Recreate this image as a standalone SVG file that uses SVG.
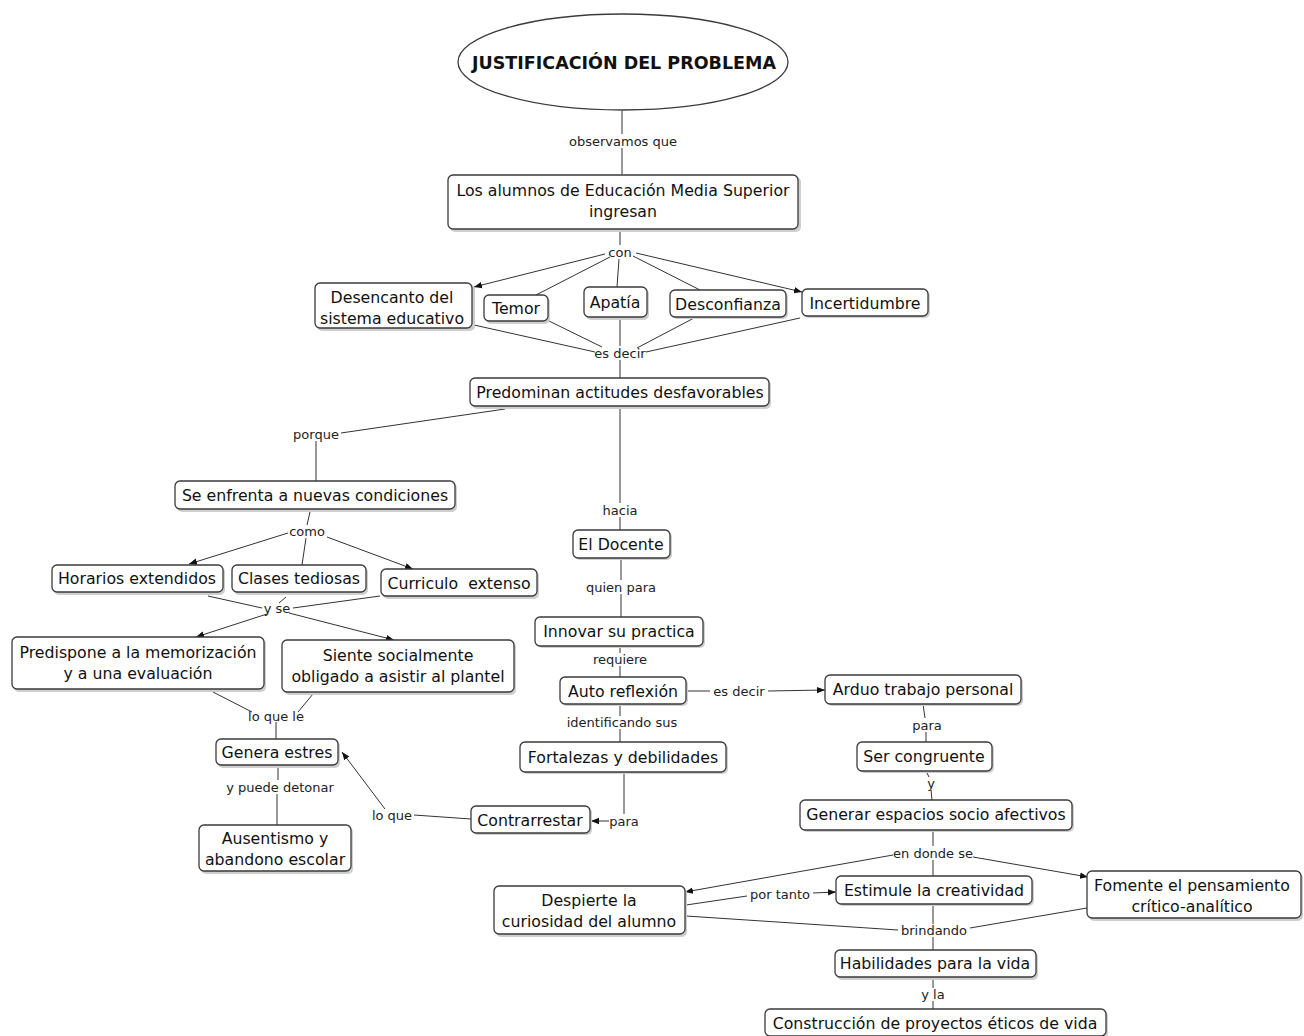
<svg xmlns="http://www.w3.org/2000/svg" width="1304" height="1036" viewBox="0 0 1304 1036">
<defs>
<style>
.n rect.b{fill:#fff;stroke:#3a3a3a;stroke-width:1.3}
.n rect.s{fill:#cfcfcf}
.n text{font-family:"DejaVu Sans",Verdana,sans-serif;font-size:15.75px;fill:#111;text-anchor:middle;dominant-baseline:central}
.l{font-family:"DejaVu Sans",Verdana,sans-serif;font-size:13px;fill:#222;text-anchor:middle;dominant-baseline:central}
#conn line{stroke:#333;stroke-width:1}
#conn line.a{marker-end:url(#ah)}
</style>
<marker id="ah" viewBox="0 0 10 10" refX="10" refY="5" markerWidth="8" markerHeight="8" markerUnits="userSpaceOnUse" orient="auto">
<path d="M0,1 L10,5 L0,9 z" fill="#111"/>
</marker>
</defs>
<rect width="1304" height="1036" fill="#fff"/>

<g id="conn">
<line x1="622" y1="111" x2="622" y2="134"/>
<line x1="622" y1="148" x2="622" y2="174"/>
<line x1="620" y1="231" x2="620" y2="245"/>
<line class="a" x1="605" y1="254" x2="474" y2="287"/>
<line x1="610" y1="257" x2="536" y2="295"/>
<line x1="619" y1="259" x2="617" y2="287"/>
<line x1="633" y1="256" x2="700" y2="290"/>
<line class="a" x1="636" y1="253" x2="802" y2="292"/>
<line x1="474" y1="325" x2="595" y2="352"/>
<line x1="549" y1="321" x2="602" y2="347"/>
<line x1="620" y1="318" x2="620" y2="346"/>
<line x1="694" y1="318" x2="637" y2="348"/>
<line x1="800" y1="318" x2="646" y2="352"/>
<line x1="620" y1="360" x2="620" y2="378"/>
<line x1="505" y1="409" x2="341" y2="433"/>
<line x1="316" y1="441" x2="316" y2="481"/>
<line x1="620" y1="407" x2="620" y2="503"/>
<line x1="620" y1="517" x2="620" y2="530"/>
<line x1="310" y1="512" x2="307" y2="525"/>
<line class="a" x1="288" y1="533" x2="189" y2="564"/>
<line x1="306" y1="538" x2="302" y2="565"/>
<line class="a" x1="327" y1="537" x2="413" y2="569"/>
<line x1="208" y1="596" x2="262" y2="608"/>
<line x1="286" y1="597" x2="279" y2="603"/>
<line x1="380" y1="596" x2="293" y2="608"/>
<line class="a" x1="267" y1="614" x2="196" y2="637"/>
<line class="a" x1="289" y1="613" x2="394" y2="640"/>
<line x1="213" y1="692" x2="252" y2="712"/>
<line x1="313" y1="694" x2="298" y2="712"/>
<line x1="276" y1="722" x2="276" y2="739"/>
<line x1="278" y1="768" x2="278" y2="780"/>
<line x1="277" y1="794" x2="277" y2="825"/>
<line class="a" x1="385" y1="809" x2="342" y2="752"/>
<line x1="414" y1="815" x2="471" y2="819"/>
<line x1="624" y1="773" x2="624" y2="814"/>
<line class="a" x1="609" y1="821" x2="591" y2="821"/>
<line x1="621" y1="558" x2="621" y2="580"/>
<line x1="621" y1="594" x2="621" y2="617"/>
<line x1="620" y1="646" x2="620" y2="653"/>
<line x1="620" y1="666" x2="620" y2="677"/>
<line x1="620" y1="704" x2="620" y2="716"/>
<line x1="620" y1="729" x2="620" y2="742"/>
<line x1="686" y1="691" x2="710" y2="691"/>
<line class="a" x1="768" y1="691" x2="825" y2="690"/>
<line x1="923" y1="704" x2="925" y2="718"/>
<line x1="926" y1="732" x2="926" y2="742"/>
<line x1="926" y1="771" x2="929" y2="777"/>
<line x1="931" y1="790" x2="932" y2="800"/>
<line x1="933" y1="830" x2="933" y2="846"/>
<line class="a" x1="893" y1="855" x2="685" y2="892"/>
<line class="a" x1="973" y1="857" x2="1088" y2="877"/>
<line x1="933" y1="860" x2="933" y2="877"/>
<line x1="686" y1="905" x2="747" y2="896"/>
<line class="a" x1="813" y1="893" x2="836" y2="892"/>
<line x1="686" y1="916" x2="898" y2="930"/>
<line x1="1087" y1="908" x2="970" y2="928"/>
<line x1="933" y1="904" x2="933" y2="924"/>
<line x1="933" y1="937" x2="933" y2="950"/>
<line x1="933" y1="977" x2="933" y2="988"/>
<line x1="933" y1="1001" x2="933" y2="1010"/>
</g>

<g id="labels">
<text class="l" x="623" y="141">observamos que</text>
<text class="l" x="620" y="252">con</text>
<text class="l" x="620" y="353">es decir</text>
<text class="l" x="316" y="434">porque</text>
<text class="l" x="620" y="510">hacia</text>
<text class="l" x="307" y="531">como</text>
<text class="l" x="277" y="608">y se</text>
<text class="l" x="276" y="716">lo que le</text>
<text class="l" x="280" y="787">y puede detonar</text>
<text class="l" x="392" y="815">lo que</text>
<text class="l" x="624" y="821">para</text>
<text class="l" x="621" y="587">quien para</text>
<text class="l" x="620" y="659">requiere</text>
<text class="l" x="739" y="691">es decir</text>
<text class="l" x="622" y="722">identificando sus</text>
<text class="l" x="927" y="725">para</text>
<text class="l" x="931" y="783">y</text>
<text class="l" x="933" y="853">en donde se</text>
<text class="l" x="780" y="894">por tanto</text>
<text class="l" x="934" y="930">brindando</text>
<text class="l" x="933" y="994">y la</text>
</g>

<g id="n-title">
<ellipse cx="623" cy="62" rx="165" ry="48" fill="#fff" stroke="#3a3a3a" stroke-width="1.3"/>
<text x="624" y="63" style="font-family:'DejaVu Sans',Verdana,sans-serif;font-size:17.5px;font-weight:bold;fill:#111;text-anchor:middle;dominant-baseline:central">JUSTIFICACIÓN DEL PROBLEMA</text>
</g>

<g id="n-alumnos" class="n">
<rect class="s" x="450" y="177" width="351" height="55" rx="5"/>
<rect class="b" x="448" y="175" width="350" height="54" rx="5"/>
<text x="623" y="190">Los alumnos de Educación Media Superior</text>
<text x="623" y="211">ingresan</text>
</g>

<g id="n-desencanto" class="n">
<rect class="s" x="317" y="285" width="158" height="46" rx="5"/>
<rect class="b" x="315" y="283" width="157" height="45" rx="5"/>
<text x="392" y="297">Desencanto del</text>
<text x="392" y="318">sistema educativo</text>
</g>

<g id="n-temor" class="n">
<rect class="s" x="486" y="297" width="64" height="27" rx="5"/>
<rect class="b" x="484" y="295" width="64" height="26" rx="5"/>
<text x="516" y="308">Temor</text>
</g>

<g id="n-apatia" class="n">
<rect class="s" x="586" y="289" width="63" height="31" rx="5"/>
<rect class="b" x="584" y="287" width="63" height="30" rx="5"/>
<text x="615" y="302">Apatía</text>
</g>

<g id="n-desconfianza" class="n">
<rect class="s" x="672" y="292" width="116" height="27" rx="5"/>
<rect class="b" x="670" y="290" width="116" height="27" rx="5"/>
<text x="728" y="304">Desconfianza</text>
</g>

<g id="n-incertidumbre" class="n">
<rect class="s" x="804" y="291" width="126" height="27" rx="5"/>
<rect class="b" x="802" y="289" width="126" height="27" rx="5"/>
<text x="865" y="303">Incertidumbre</text>
</g>

<g id="n-predominan" class="n">
<rect class="s" x="472" y="380" width="299" height="29" rx="5"/>
<rect class="b" x="470" y="378" width="299" height="28" rx="5"/>
<text x="620" y="392">Predominan actitudes desfavorables</text>
</g>

<g id="n-enfrenta" class="n">
<rect class="s" x="177" y="483" width="280" height="29" rx="5"/>
<rect class="b" x="175" y="481" width="280" height="28" rx="5"/>
<text x="315" y="495">Se enfrenta a nuevas condiciones</text>
</g>

<g id="n-horarios" class="n">
<rect class="s" x="54" y="567" width="171" height="28" rx="5"/>
<rect class="b" x="52" y="565" width="171" height="27" rx="5"/>
<text x="137" y="578">Horarios extendidos</text>
</g>

<g id="n-clases" class="n">
<rect class="s" x="234" y="567" width="134" height="28" rx="5"/>
<rect class="b" x="232" y="565" width="134" height="27" rx="5"/>
<text x="299" y="578">Clases tediosas</text>
</g>

<g id="n-curriculo" class="n">
<rect class="s" x="383" y="571" width="156" height="28" rx="5"/>
<rect class="b" x="381" y="569" width="156" height="27" rx="5"/>
<text x="459" y="583" xml:space="preserve">Curriculo  extenso</text>
</g>

<g id="n-predispone" class="n">
<rect class="s" x="14" y="639" width="252" height="53" rx="5"/>
<rect class="b" x="12" y="637" width="252" height="52" rx="5"/>
<text x="138" y="652">Predispone a la memorización</text>
<text x="138" y="673">y a una evaluación</text>
</g>

<g id="n-siente" class="n">
<rect class="s" x="284" y="642" width="232" height="53" rx="5"/>
<rect class="b" x="282" y="640" width="232" height="52" rx="5"/>
<text x="398" y="655">Siente socialmente</text>
<text x="398" y="676">obligado a asistir al plantel</text>
</g>

<g id="n-genera" class="n">
<rect class="s" x="218" y="741" width="122" height="27" rx="5"/>
<rect class="b" x="216" y="739" width="122" height="26" rx="5"/>
<text x="277" y="752">Genera estres</text>
</g>

<g id="n-ausentismo" class="n">
<rect class="s" x="201" y="827" width="152" height="47" rx="5"/>
<rect class="b" x="199" y="825" width="152" height="46" rx="5"/>
<text x="275" y="838">Ausentismo y</text>
<text x="275" y="859">abandono escolar</text>
</g>

<g id="n-contrarrestar" class="n">
<rect class="s" x="473" y="808" width="119" height="27" rx="5"/>
<rect class="b" x="471" y="806" width="119" height="27" rx="5"/>
<text x="530" y="820">Contrarrestar</text>
</g>

<g id="n-docente" class="n">
<rect class="s" x="575" y="532" width="97" height="28" rx="5"/>
<rect class="b" x="573" y="530" width="97" height="28" rx="5"/>
<text x="621" y="544">El Docente</text>
</g>

<g id="n-innovar" class="n">
<rect class="s" x="537" y="619" width="168" height="29" rx="5"/>
<rect class="b" x="535" y="617" width="168" height="29" rx="5"/>
<text x="619" y="631">Innovar su practica</text>
</g>

<g id="n-auto" class="n">
<rect class="s" x="562" y="679" width="126" height="27" rx="5"/>
<rect class="b" x="560" y="677" width="126" height="27" rx="5"/>
<text x="623" y="691">Auto reflexión</text>
</g>

<g id="n-fortalezas" class="n">
<rect class="s" x="522" y="744" width="206" height="30" rx="5"/>
<rect class="b" x="520" y="742" width="206" height="30" rx="5"/>
<text x="623" y="757">Fortalezas y debilidades</text>
</g>

<g id="n-arduo" class="n">
<rect class="s" x="827" y="677" width="196" height="29" rx="5"/>
<rect class="b" x="825" y="675" width="196" height="29" rx="5"/>
<text x="923" y="689">Arduo trabajo personal</text>
</g>

<g id="n-ser" class="n">
<rect class="s" x="859" y="744" width="135" height="29" rx="5"/>
<rect class="b" x="857" y="742" width="135" height="29" rx="5"/>
<text x="924" y="756">Ser congruente</text>
</g>

<g id="n-generar" class="n">
<rect class="s" x="802" y="802" width="272" height="30" rx="5"/>
<rect class="b" x="800" y="800" width="272" height="30" rx="5"/>
<text x="936" y="814">Generar espacios socio afectivos</text>
</g>

<g id="n-despierte" class="n">
<rect class="s" x="496" y="888" width="191" height="49" rx="5"/>
<rect class="b" x="494" y="886" width="191" height="48" rx="5"/>
<text x="589" y="900">Despierte la</text>
<text x="589" y="921">curiosidad del alumno</text>
</g>

<g id="n-estimule" class="n">
<rect class="s" x="838" y="878" width="196" height="28" rx="5"/>
<rect class="b" x="836" y="876" width="196" height="28" rx="5"/>
<text x="934" y="890">Estimule la creatividad</text>
</g>

<g id="n-fomente" class="n">
<rect class="s" x="1089" y="873" width="214" height="48" rx="5"/>
<rect class="b" x="1087" y="871" width="214" height="47" rx="5"/>
<text x="1192" y="885">Fomente el pensamiento</text>
<text x="1192" y="906">crítico-analítico</text>
</g>

<g id="n-habilidades" class="n">
<rect class="s" x="837" y="952" width="201" height="28" rx="5"/>
<rect class="b" x="835" y="950" width="201" height="27" rx="5"/>
<text x="935" y="963">Habilidades para la vida</text>
</g>

<g id="n-construccion" class="n">
<rect class="s" x="767" y="1011" width="341" height="28" rx="5"/>
<rect class="b" x="765" y="1009" width="341" height="27" rx="5"/>
<text x="935" y="1023">Construcción de proyectos éticos de vida</text>
</g>
</svg>
